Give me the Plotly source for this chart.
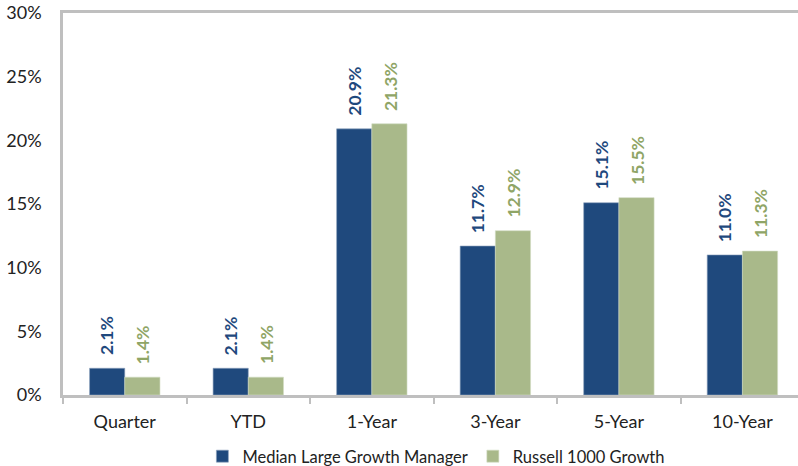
import plotly.graph_objects as go

categories = ["Quarter", "YTD", "1-Year", "3-Year", "5-Year", "10-Year"]
manager = [2.1, 2.1, 20.9, 11.7, 15.1, 11.0]
russell = [1.4, 1.4, 21.3, 12.9, 15.5, 11.3]
series_names = ["Median Large Growth Manager", "Russell 1000 Growth"]
y_ticks = [0, 5, 10, 15, 20, 25, 30]

BLUE = "#1F497D"
GREEN = "#A9B98A"
LABEL_GREEN = "#8FA566"
FONT = "Lato"

fig = go.Figure()
fig.add_trace(go.Bar(x=categories, y=manager, name=series_names[0],
                     marker=dict(color=BLUE, line=dict(color="#8EA3BE", width=0.6))))
fig.add_trace(go.Bar(x=categories, y=russell, name=series_names[1],
                     marker=dict(color=GREEN, line=dict(color="#D2DBC2", width=0.6))))

ann = []
for vals, col, dx in [(manager, BLUE, -17.5), (russell, LABEL_GREEN, 18)]:
    for c, v in zip(categories, vals):
        ann.append(dict(x=c, y=v, xref="x", yref="y", text=f"{v:.1f}%",
                        textangle=-90, showarrow=False, xanchor="center", yanchor="bottom",
                        xshift=dx, yshift=11,
                        font=dict(family=FONT, size=17.5, color=col, weight="bold")))

fig.update_layout(
    width=798, height=466,
    margin=dict(l=63, r=0, t=13, b=71, autoexpand=False),
    paper_bgcolor="white", plot_bgcolor="white",
    barmode="group", bargap=0.43, bargroupgap=0,
    font=dict(family=FONT, size=18, color="#222222"),
    showlegend=True,
    legend=dict(orientation="h", x=0.508, xanchor="center", y=-0.115, yanchor="top",
                font=dict(family=FONT, size=16.5, color="#222222"),
                itemwidth=30, tracegroupgap=0, traceorder="normal"),
    annotations=ann,
)
fig.update_xaxes(range=[-0.5, 5.45], showline=True, linecolor="#BFBFBF", linewidth=2.5,
                 mirror=True, ticks="outside", tickson="boundaries", ticklen=6,
                 tickcolor="#BFBFBF", tickwidth=1.5, showgrid=False, automargin=False,
                 ticklabelstandoff=9, tickfont=dict(size=18))
fig.update_yaxes(range=[0, 30], tickvals=y_ticks, ticktext=[f"{t}%" for t in y_ticks],
                 showline=True, linecolor="#BFBFBF", linewidth=2.5, showgrid=False,
                 zeroline=False, ticks="", ticklabelstandoff=15, automargin=False,
                 tickfont=dict(size=18))

fig.write_html("out.html", config={"displayModeBar": False},
               post_script="document.body.style.margin='0px';document.body.style.overflow='hidden';")
